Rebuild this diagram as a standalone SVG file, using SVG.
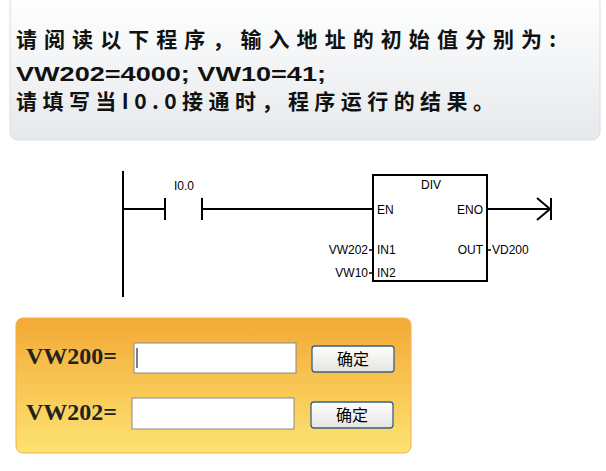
<svg xmlns="http://www.w3.org/2000/svg" width="606" height="471" viewBox="0 0 606 471">
<defs>
<linearGradient id="gp" x1="0" y1="0" x2="0" y2="1"><stop offset="0" stop-color="#ffffff"/><stop offset="1" stop-color="#e6e9ec"/></linearGradient>
<linearGradient id="gy" x1="0" y1="0" x2="0" y2="1"><stop offset="0" stop-color="#f3a935"/><stop offset="1" stop-color="#fde372"/></linearGradient>
<linearGradient id="gb" x1="0" y1="0" x2="0" y2="1"><stop offset="0" stop-color="#ffffff"/><stop offset="1" stop-color="#e4e4e0"/></linearGradient>
<style>
.cj{font-family:"Noto Sans CJK SC",sans-serif;font-size:21px;font-weight:bold;fill:#111}
.hd{font-family:"Liberation Sans",sans-serif;font-size:21px;font-weight:bold;fill:#111}
.lb{font-family:"Liberation Sans",sans-serif;font-size:12px;fill:#000}
.ln{stroke:#000;stroke-width:2;fill:none}
.fm{font-family:"Liberation Serif",serif;font-size:24px;font-weight:bold;fill:#222}
.in{fill:#fff;stroke:#8a8a8a;stroke-width:1}
.bt{fill:url(#gb);stroke:#3a5f8a;stroke-width:1.3}
.bl{font-family:"Noto Sans CJK SC",sans-serif;font-size:16px;fill:#000}
</style>
</defs>
<rect width="606" height="471" fill="#fff"/>
<g id="question">
<rect x="10" y="-6" width="590" height="146" rx="8" fill="url(#gp)" stroke="#d8dcdf"/>
<text class="cj" x="16" y="47" textLength="540" lengthAdjust="spacing">请阅读以下程序，输入地址的初始值分别为:</text>
<text class="hd" x="16" y="81" textLength="310" lengthAdjust="spacingAndGlyphs">VW202=4000;  VW10=41;</text>
<text class="cj" x="16" y="109" textLength="478" lengthAdjust="spacing">请填写当I0.0接通时，程序运行的结果。</text>
</g>
<g id="rail"><line class="ln" x1="123" y1="171" x2="123" y2="297"/></g>
<g id="contact">
<line class="ln" x1="165" y1="198" x2="165" y2="220"/>
<line class="ln" x1="202" y1="198" x2="202" y2="220"/>
<text class="lb" x="174" y="190">I0.0</text>
</g>
<g id="div">
<rect x="373" y="175" width="114" height="106" fill="#fff" stroke="#000" stroke-width="2"/>
<text class="lb" x="431" y="189" text-anchor="middle">DIV</text>
<text class="lb" x="377" y="214">EN</text>
<text class="lb" x="483" y="214" text-anchor="end">ENO</text>
<text class="lb" x="377" y="254">IN1</text>
<text class="lb" x="377" y="277">IN2</text>
<text class="lb" x="483" y="254" text-anchor="end">OUT</text>
<text class="lb" x="368" y="254" text-anchor="end">VW202</text>
<text class="lb" x="368" y="277" text-anchor="end">VW10</text>
<text class="lb" x="492" y="254">VD200</text>
</g>
<g id="connectors">
<line class="ln" x1="123" y1="209" x2="165" y2="209"/>
<line class="ln" x1="202" y1="209" x2="373" y2="209"/>
<line class="ln" x1="487" y1="209" x2="550" y2="209"/>
<polyline class="ln" points="537,198 550,209 537,220"/>
<line class="ln" x1="551" y1="198" x2="551" y2="220"/>
<line stroke="#000" stroke-width="1.5" x1="369" y1="250" x2="373" y2="250"/>
<line stroke="#000" stroke-width="1.5" x1="369" y1="273" x2="373" y2="273"/>
<line stroke="#000" stroke-width="1.5" x1="487" y1="250" x2="491" y2="250"/>
</g>
<g id="form">
<rect x="16" y="318" width="395" height="135" rx="7" fill="url(#gy)" stroke="#f0b050"/>
<text class="fm" x="26" y="364">VW200=</text>
<rect class="in" x="134" y="343" width="162" height="30"/>
<line x1="137" y1="348" x2="137" y2="368" stroke="#000"/>
<rect class="bt" x="312" y="346" width="82" height="26" rx="3"/>
<text class="bl" x="353" y="365" text-anchor="middle">确定</text>
<text class="fm" x="26" y="420">VW202=</text>
<rect class="in" x="132" y="398" width="162" height="31"/>
<rect class="bt" x="311" y="402" width="82" height="26" rx="3"/>
<text class="bl" x="352" y="421" text-anchor="middle">确定</text>
</g>
</svg>
